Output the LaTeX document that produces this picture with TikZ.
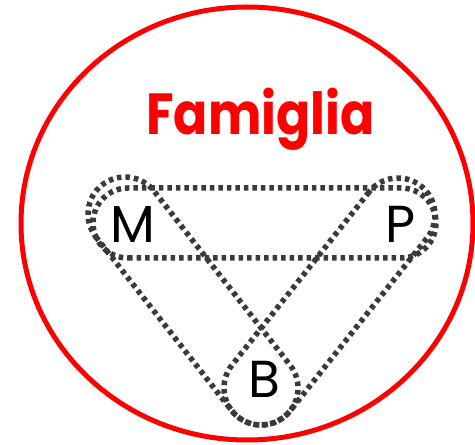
\documentclass[tikz,border=0pt]{standalone}
\usepackage{fontspec}
\setmainfont{Poppins}
\usetikzlibrary{calc}
\definecolor{famred}{RGB}{255,0,0}
\definecolor{dotgray}{RGB}{58,58,58}
\tikzset{
  dotline/.style={draw=dotgray, line width=5.5pt, dash pattern=on 4.5pt off 4pt},
  ring/.style={draw=famred, line width=5pt},
  member/.style={font=\fontsize{52}{52}\selectfont, inner sep=0pt, text=black},
  titletext/.style={font=\fontsize{58}{58}\selectfont\bfseries, inner sep=0pt, text=famred, anchor=base}
}
\newcommand{\dothull}[3]{%
  \draw[dotline] let \p1=($(#2)-(#1)$), \n1={atan2(\y1,\x1)} in
    ($(#1)+(\n1-90:#3)$) -- ($(#2)+(\n1-90:#3)$)
    arc[start angle=\n1-90, delta angle=180, radius=#3]
    -- ($(#1)+(\n1+90:#3)$)
    arc[start angle=\n1+90, delta angle=180, radius=#3] -- cycle;}
\begin{document}
\begin{tikzpicture}[x=1pt, y=1pt]
  \useasboundingbox (0,0) rectangle (475,445);
  \draw[ring] (247,221.5) ellipse [x radius=226, y radius=216.5];
  \node[titletext] (title) at (260.5,310) {\scalebox{0.87}[1]{Famiglia}};
  % hull ends
  \coordinate (mp1) at (128,222);
  \coordinate (mp2) at (401,222);
  \coordinate (mb1) at (125,231);
  \coordinate (mb2) at (261,57);
  \coordinate (pb1) at (398,230);
  \coordinate (pb2) at (261,57);
  \dothull{mp1}{mp2}{35pt}
  \dothull{mb1}{mb2}{37pt}
  \dothull{pb1}{pb2}{37pt}
  \node[member] (m) at (133,220) {M};
  \node[member] (p) at (401,221) {P};
  \node[member] (b) at (264,66) {B};
\end{tikzpicture}
\end{document}
